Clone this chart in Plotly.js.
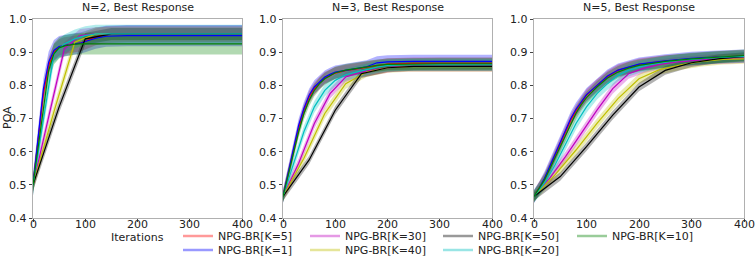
<!DOCTYPE html>
<html>
<head>
<meta charset="utf-8">
<script src="https://cdn.plot.ly/plotly-3.0.1.min.js"></script>
<style>
  html, body { margin: 0; padding: 0; background: #fff; }
  #chart { width: 756px; height: 257px; }
</style>
</head>
<body>
<div id="chart"></div>
<script>
// iteration grids (each K logs at its own step; fine grid for the small-K runs)
var xFine = [0, 10, 20, 30, 40, 50, 60, 70, 80, 90, 100, 120, 140, 160, 180, 200, 250, 300, 350, 400];
var xK20 = [0, 20, 40, 60, 80, 100, 120, 140, 160, 180, 200, 220, 240, 260, 280, 300, 320, 340, 360, 380, 400];
var xK30 = [0, 30, 60, 90, 120, 150, 180, 210, 240, 270, 300, 330, 360, 390, 400];
var xK40 = [0, 40, 80, 120, 160, 200, 240, 280, 320, 360, 400];
var xK50 = [0, 50, 100, 150, 200, 250, 300, 350, 400];
var xTicks = [0, 100, 200, 300, 400];
var yTicks = [0.4, 0.5, 0.6, 0.7, 0.8, 0.9, 1.0];

// N=2
var n2_k1 = [0.50, 0.645, 0.79, 0.87, 0.905, 0.917, 0.921, 0.923, 0.925, 0.927, 0.932, 0.942, 0.948, 0.95, 0.95, 0.95, 0.95, 0.95, 0.95, 0.95];
var n2_k5 = [0.50, 0.635, 0.775, 0.86, 0.90, 0.915, 0.92, 0.922, 0.924, 0.927, 0.933, 0.946, 0.953, 0.955, 0.955, 0.955, 0.955, 0.955, 0.955, 0.955];
var n2_k10 = [0.50, 0.62, 0.74, 0.845, 0.895, 0.913, 0.919, 0.922, 0.924, 0.925, 0.925, 0.925, 0.925, 0.925, 0.925, 0.925, 0.925, 0.925, 0.925, 0.925];
var n2_k20 = [0.50, 0.70, 0.895, 0.925, 0.94, 0.95, 0.955, 0.955, 0.955, 0.955, 0.955, 0.955, 0.955, 0.955, 0.955, 0.955, 0.955, 0.955, 0.955, 0.955, 0.955];
var n2_k30 = [0.50, 0.705, 0.91, 0.95, 0.955, 0.955, 0.955, 0.955, 0.955, 0.955, 0.955, 0.955, 0.955, 0.955, 0.955];
var n2_k40 = [0.50, 0.72, 0.93, 0.955, 0.955, 0.955, 0.955, 0.955, 0.955, 0.955, 0.955];
var n2_k50 = [0.50, 0.735, 0.94, 0.955, 0.955, 0.955, 0.955, 0.955, 0.955];

// N=3
var n3_k1 = [0.465, 0.54, 0.61, 0.68, 0.73, 0.77, 0.795, 0.81, 0.825, 0.833, 0.84, 0.845, 0.85, 0.856, 0.868, 0.871, 0.872, 0.872, 0.872, 0.872];
var n3_k5 = [0.465, 0.535, 0.605, 0.672, 0.725, 0.765, 0.79, 0.808, 0.822, 0.83, 0.837, 0.844, 0.849, 0.854, 0.86, 0.864, 0.866, 0.866, 0.866, 0.866];
var n3_k10 = [0.465, 0.53, 0.595, 0.66, 0.715, 0.755, 0.785, 0.805, 0.82, 0.83, 0.838, 0.846, 0.851, 0.856, 0.86, 0.863, 0.865, 0.865, 0.865, 0.865];
var n3_k20 = [0.465, 0.565, 0.66, 0.735, 0.785, 0.815, 0.832, 0.84, 0.848, 0.855, 0.86, 0.862, 0.862, 0.862, 0.862, 0.862, 0.862, 0.862, 0.862, 0.862, 0.862];
var n3_k30 = [0.465, 0.565, 0.685, 0.775, 0.825, 0.84, 0.848, 0.855, 0.857, 0.857, 0.857, 0.857, 0.857, 0.857, 0.857];
var n3_k40 = [0.465, 0.58, 0.715, 0.805, 0.84, 0.853, 0.856, 0.856, 0.856, 0.856, 0.856];
var n3_k50 = [0.465, 0.575, 0.725, 0.835, 0.853, 0.857, 0.857, 0.857, 0.857];

// N=5
var n5_k1 = [0.465, 0.49, 0.52, 0.555, 0.59, 0.63, 0.665, 0.70, 0.728, 0.752, 0.772, 0.80, 0.828, 0.846, 0.856, 0.864, 0.874, 0.881, 0.885, 0.888];
var n5_k5 = [0.465, 0.49, 0.518, 0.552, 0.587, 0.625, 0.66, 0.695, 0.723, 0.748, 0.77, 0.80, 0.826, 0.845, 0.855, 0.863, 0.873, 0.88, 0.885, 0.888];
var n5_k10 = [0.465, 0.488, 0.515, 0.548, 0.582, 0.618, 0.653, 0.687, 0.716, 0.742, 0.763, 0.795, 0.822, 0.84, 0.852, 0.86, 0.872, 0.88, 0.885, 0.89];
var n5_k20 = [0.465, 0.505, 0.56, 0.625, 0.685, 0.735, 0.775, 0.805, 0.83, 0.845, 0.855, 0.862, 0.868, 0.872, 0.876, 0.879, 0.881, 0.883, 0.885, 0.886, 0.887];
var n5_k30 = [0.465, 0.52, 0.585, 0.655, 0.725, 0.79, 0.835, 0.852, 0.863, 0.87, 0.875, 0.878, 0.88, 0.882, 0.882];
var n5_k40 = [0.465, 0.53, 0.605, 0.685, 0.76, 0.82, 0.848, 0.862, 0.872, 0.878, 0.88];
var n5_k50 = [0.465, 0.525, 0.615, 0.71, 0.795, 0.845, 0.868, 0.88, 0.887];

// spread of each run, order K=1,5,10,20,30,40,50
var n2_std = [0.032, 0.025, 0.032, 0.028, 0.02, 0.02, 0.018];
var n3_std = [0.02, 0.018, 0.018, 0.018, 0.015, 0.015, 0.013];
var n5_std = [0.02, 0.018, 0.018, 0.018, 0.015, 0.015, 0.013];

var panelTitles = ["N=2, Best Response", "N=3, Best Response", "N=5, Best Response"];

// series definitions (drawing order, green on top)
var series = [
    {k: 5, idx: 1, x: xFine, col: [255, 0, 0]},
    {k: 1, idx: 0, x: xFine, col: [0, 0, 255]},
    {k: 30, idx: 4, x: xK30, col: [191, 0, 191]},
    {k: 40, idx: 5, x: xK40, col: [191, 191, 0]},
    {k: 50, idx: 6, x: xK50, col: [0, 0, 0]},
    {k: 20, idx: 3, x: xK20, col: [0, 191, 191]},
    {k: 10, idx: 2, x: xFine, col: [0, 128, 0]}
];
var panels = [
    {ax: "", vals: {1: n2_k1, 5: n2_k5, 10: n2_k10, 20: n2_k20, 30: n2_k30, 40: n2_k40, 50: n2_k50}, std: n2_std},
    {ax: "2", vals: {1: n3_k1, 5: n3_k5, 10: n3_k10, 20: n3_k20, 30: n3_k30, 40: n3_k40, 50: n3_k50}, std: n3_std},
    {ax: "3", vals: {1: n5_k1, 5: n5_k5, 10: n5_k10, 20: n5_k20, 30: n5_k30, 40: n5_k40, 50: n5_k50}, std: n5_std}
];

function rgba(c, a) { return "rgba(" + c[0] + "," + c[1] + "," + c[2] + "," + a + ")"; }

var traces = [];
// shaded bands first
panels.forEach(function(p) {
    series.forEach(function(s) {
        var y = p.vals[s.k], sd = p.std[s.idx];
        var up = y.map(function(v) { return v + sd; });
        var lo = y.map(function(v) { return v - sd; });
        traces.push({x: s.x, y: up, xaxis: "x" + p.ax, yaxis: "y" + p.ax, mode: "lines",
            line: {width: 0}, showlegend: false, hoverinfo: "skip"});
        traces.push({x: s.x, y: lo, xaxis: "x" + p.ax, yaxis: "y" + p.ax, mode: "lines",
            line: {width: 0}, fill: "tonexty", fillcolor: rgba(s.col, 0.3), showlegend: false, hoverinfo: "skip"});
    });
});
// mean lines
panels.forEach(function(p) {
    series.forEach(function(s) {
        traces.push({x: s.x, y: p.vals[s.k], xaxis: "x" + p.ax, yaxis: "y" + p.ax, mode: "lines",
            line: {color: rgba(s.col, 1), width: 1.2}, showlegend: false});
    });
});

var W = 756, H = 257;

// legend: one small legend per entry so the column-by-column layout is kept
// [K, text left edge px, row centre px]
var legendSlots = [[5, 218, 236], [1, 218, 250], [30, 345, 236], [40, 345, 250],
                   [50, 478, 236], [20, 478, 250], [10, 612, 236]];

var layout = {
    width: W, height: H,
    margin: {l: 0, r: 0, t: 0, b: 0, autoexpand: false},
    paper_bgcolor: "#fff", plot_bgcolor: "#fff",
    font: {family: "DejaVu Sans", size: 11, color: "#222"},
    showlegend: true,
    annotations: []
};

legendSlots.forEach(function(slot, i) {
    var s = series.filter(function(d) { return d.k === slot[0]; })[0];
    var lid = i === 0 ? "legend" : "legend" + (i + 1);
    traces.push({x: [null], y: [null], mode: "lines", name: "NPG-BR[K=" + slot[0] + "]", legend: lid,
        line: {color: rgba(s.col, 0.4), width: 2.5}, showlegend: true});
    layout[lid] = {x: (slot[1] - 40) / W, xanchor: "left", y: 1 - slot[2] / H, yanchor: "middle",
        orientation: "v", itemwidth: 30, font: {size: 11}, bgcolor: "rgba(0,0,0,0)", borderwidth: 0};
});

var xDomains = [[33 / W, 242 / W], [283 / W, 492 / W], [534 / W, 744 / W]];
var yDomain = [1 - 218 / H, 1 - 19 / H];

panels.forEach(function(p, i) {
    // x tick labels are placed as annotations on the x scale so they sit tight under the frame
    layout["xaxis" + p.ax] = {domain: xDomains[i], anchor: "y" + p.ax, range: [0, 400], tickvals: xTicks,
        showticklabels: false, showgrid: false, zeroline: false, showline: true, mirror: true,
        linecolor: "#b0b0b0", linewidth: 1.2, ticks: "outside", ticklen: 3, tickcolor: "#444"};
    layout["yaxis" + p.ax] = {domain: yDomain, anchor: "x" + p.ax, range: [0.4, 1.0], tickvals: yTicks,
        tickformat: ".1f", showgrid: false, zeroline: false, showline: true, mirror: true, linecolor: "#b0b0b0",
        linewidth: 1.2, ticks: "outside", ticklen: 3, tickcolor: "#444", tickfont: {size: 11}};
    xTicks.forEach(function(v) {
        layout.annotations.push({text: String(v), xref: "x" + p.ax, yref: "paper", x: v, y: 1 - 224 / H,
            xanchor: "center", yanchor: "middle", showarrow: false, font: {size: 11}});
    });
    layout.annotations.push({text: panelTitles[i], xref: "x" + p.ax + " domain", yref: "paper",
        x: 0.5, y: 1 - 7 / H, xanchor: "center", yanchor: "middle", showarrow: false, font: {size: 11}});
});
layout.annotations.push({text: "Iterations", xref: "x domain", yref: "paper", x: 0.5, y: 1 - 237 / H,
    xanchor: "center", yanchor: "middle", showarrow: false, font: {size: 11}});
layout.annotations.push({text: "POA", xref: "paper", yref: "paper", x: 8 / W, y: 1 - 118 / H, textangle: -90,
    xanchor: "center", yanchor: "middle", showarrow: false, font: {size: 11}});

Plotly.newPlot("chart", traces, layout, {displayModeBar: false, staticPlot: true});
</script>
</body>
</html>
